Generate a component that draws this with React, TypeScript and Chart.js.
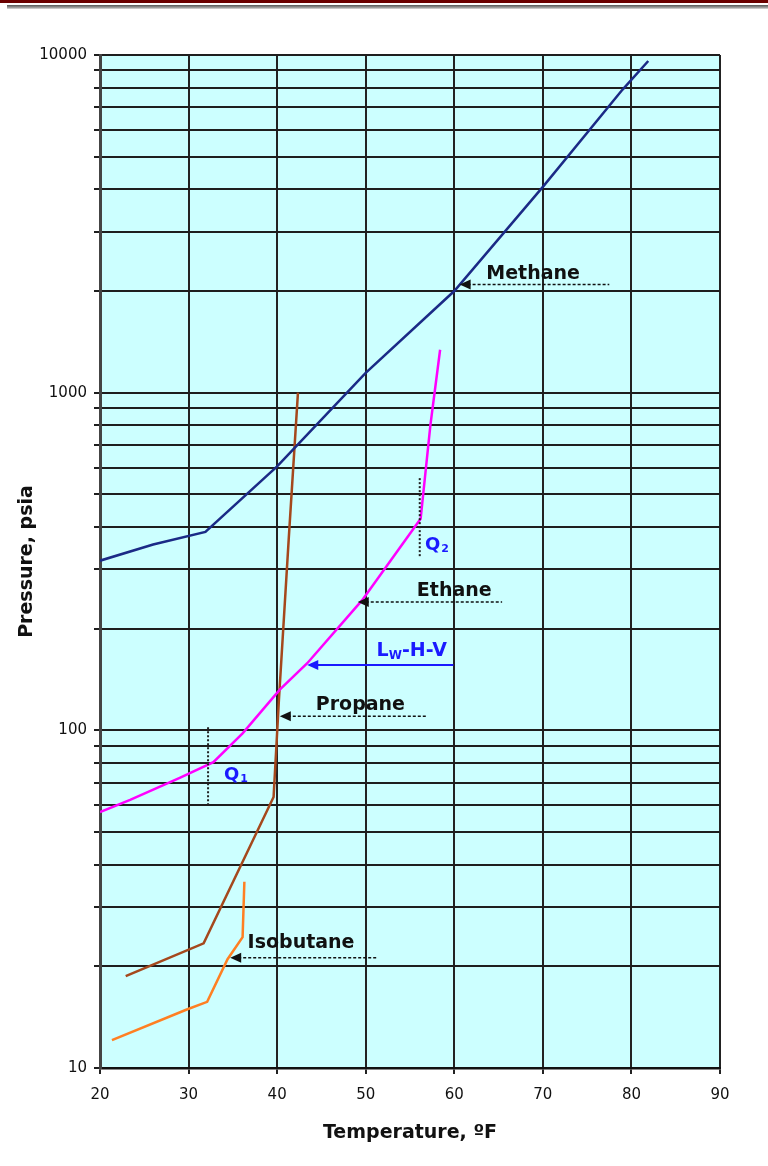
import React, { useEffect, useRef } from "react";
import Chart from "chart.js/auto";

// Hydrate formation curves: temperature (°F) vs pressure (psia)
const methaneT = [20, 26, 31.9, 40, 50, 60, 70, 79, 81.9];
const methaneP = [318, 355, 387, 605, 1145, 2000, 4070, 7900, 9600];

const ethaneT = [20, 23.4, 29, 32.8, 36.1, 40.3, 43.4, 49.6, 56.2, 57.3, 58.4];
const ethaneP = [57.3, 62.2, 72.3, 80.5, 98, 132, 158, 243, 423, 800, 1340];

const propaneT = [22.9, 31.7, 39.6, 40.2, 41.3, 42.35];
const propaneP = [18.7, 23.4, 63.5, 123, 366, 1000];

const isobutaneT = [21.35, 29.8, 32.1, 34.4, 36.1, 36.3];
const isobutaneP = [12.1, 14.9, 15.7, 21, 24.4, 35.6];

// Pressure gridline values and the ones that carry a label
const pressureTicks = [
  10, 20, 30, 40, 50, 60, 70, 80, 90,
  100, 200, 300, 400, 500, 600, 700, 800, 900,
  1000, 2000, 3000, 4000, 5000, 6000, 7000, 8000, 9000,
  10000,
];
const pressureLabels = [10, 100, 1000, 10000];

// Callout arrows: tip on the curve, tail end, pressure level, label centre
const callouts = [
  { text: "Methane", tipT: 60.6, endT: 77.5, p: 2090, labelT: 68.9, dy: -6, solid: false },
  { text: "Ethane", tipT: 49.1, endT: 65.4, p: 240, labelT: 60.0, dy: -6, solid: false },
  { text: "LW-H-V", tipT: 43.4, endT: 59.9, p: 156, labelT: 55.2, dy: -9, solid: true },
  { text: "Propane", tipT: 40.3, endT: 56.9, p: 110, labelT: 49.4, dy: -6, solid: false },
  { text: "Isobutane", tipT: 34.7, endT: 51.2, p: 21.2, labelT: 42.7, dy: -10, solid: false },
];

// Quadruple points: dotted vertical marker and label
const quadPoints = [
  { name: "1", t: 32.2, pLow: 60, pHigh: 103, labelT: 34.0, labelP: 73.8 },
  { name: "2", t: 56.1, pLow: 328, pHigh: 559, labelT: 56.7, labelP: 354 },
];

const toPoints = (xs: number[], ys: number[]) => xs.map((x, i) => ({ x, y: ys[i] }));

const FONT = "'DejaVu Sans', 'Liberation Sans', Arial, sans-serif";
const BLUE = "#1a1aff";

function arrowHead(ctx: CanvasRenderingContext2D, x: number, y: number, color: string) {
  ctx.beginPath();
  ctx.moveTo(x, y);
  ctx.lineTo(x + 11, y - 5);
  ctx.lineTo(x + 11, y + 5);
  ctx.closePath();
  ctx.fillStyle = color;
  ctx.fill();
}

const notesPlugin = {
  id: "hydrateNotes",
  beforeDraw(chart: any) {
    const { ctx, chartArea } = chart;
    ctx.save();
    ctx.fillStyle = "#ccffff";
    ctx.fillRect(chartArea.left, chartArea.top, chartArea.right - chartArea.left, chartArea.bottom - chartArea.top);
    ctx.restore();
  },
  afterDatasetsDraw(chart: any) {
    const { ctx } = chart;
    const xs = chart.scales.x;
    const ys = chart.scales.y;
    ctx.save();

    // quadruple point markers
    quadPoints.forEach((q) => {
      const x = xs.getPixelForValue(q.t);
      ctx.beginPath();
      ctx.setLineDash([2, 2]);
      ctx.lineWidth = 2;
      ctx.strokeStyle = "#222";
      ctx.moveTo(x, ys.getPixelForValue(q.pLow));
      ctx.lineTo(x, ys.getPixelForValue(q.pHigh));
      ctx.stroke();
      ctx.setLineDash([]);
      const lx = xs.getPixelForValue(q.labelT);
      const ly = ys.getPixelForValue(q.labelP);
      ctx.fillStyle = BLUE;
      ctx.textBaseline = "middle";
      ctx.textAlign = "left";
      ctx.font = `bold 18px ${FONT}`;
      ctx.fillText("Q", lx, ly);
      const w = ctx.measureText("Q").width;
      ctx.font = `bold 11px ${FONT}`;
      ctx.fillText(q.name, lx + w + 1, ly + 4);
    });

    // callout arrows with labels
    callouts.forEach((c) => {
      const x0 = xs.getPixelForValue(c.tipT);
      const x1 = xs.getPixelForValue(c.endT);
      const y = ys.getPixelForValue(c.p);
      const color = c.solid ? BLUE : "#111";
      ctx.beginPath();
      ctx.lineWidth = c.solid ? 2 : 1.5;
      ctx.strokeStyle = color;
      ctx.setLineDash(c.solid ? [] : [3, 2]);
      ctx.moveTo(x0 + 8, y);
      ctx.lineTo(x1, y);
      ctx.stroke();
      ctx.setLineDash([]);
      arrowHead(ctx, x0, y, color);

      const cx = xs.getPixelForValue(c.labelT);
      const by = y + c.dy;
      ctx.textBaseline = "alphabetic";
      ctx.textAlign = "left";
      ctx.fillStyle = color;
      if (c.text === "LW-H-V") {
        const big = `bold 19px ${FONT}`;
        const small = `bold 12px ${FONT}`;
        ctx.font = big;
        const wL = ctx.measureText("L").width;
        const wRest = ctx.measureText("-H-V").width;
        ctx.font = small;
        const wW = ctx.measureText("W").width;
        let x = cx - (wL + wW + wRest) / 2;
        ctx.font = big;
        ctx.fillText("L", x, by);
        x += wL;
        ctx.font = small;
        ctx.fillText("W", x, by + 3);
        x += wW;
        ctx.font = big;
        ctx.fillText("-H-V", x, by);
      } else {
        ctx.font = `bold 19px ${FONT}`;
        ctx.textAlign = "center";
        ctx.fillText(c.text, cx, by);
      }
    });
    ctx.restore();
  },
};

export default function App() {
  const canvasRef = useRef<HTMLCanvasElement | null>(null);

  useEffect(() => {
    if (!canvasRef.current) return;
    const line = (label: string, data: any[], color: string) => ({
      label,
      data,
      borderColor: color,
      backgroundColor: color,
      borderWidth: 2.5,
      showLine: true,
      pointRadius: 0,
      tension: 0,
    });
    const chart = new Chart(canvasRef.current, {
      type: "scatter",
      data: {
        datasets: [
          line("Methane", toPoints(methaneT, methaneP), "#1b2a86"),
          line("Ethane", toPoints(ethaneT, ethaneP), "#ff00ff"),
          line("Propane", toPoints(propaneT, propaneP), "#a5481c"),
          line("Isobutane", toPoints(isobutaneT, isobutaneP), "#ff7f22"),
        ],
      },
      options: {
        animation: false,
        responsive: false,
        devicePixelRatio: 1,
        layout: { padding: { left: 0, right: 48, top: 55, bottom: 0 } },
        plugins: { legend: { display: false }, tooltip: { enabled: false } },
        scales: {
          x: {
            type: "linear",
            min: 20,
            max: 90,
            ticks: { stepSize: 10, color: "#111", font: { family: FONT, size: 15 }, padding: 12 },
            grid: { color: "#222", lineWidth: 2, tickLength: 6 },
            border: { color: "#111", width: 2.5 },
            title: {
              display: true,
              text: "Temperature, ºF",
              color: "#111",
              font: { family: FONT, size: 19, weight: "bold" },
              padding: { top: 4, bottom: 22 },
            },
            afterFit: (scale: any) => {
              scale.height = 98;
            },
          },
          y: {
            type: "logarithmic",
            min: 10,
            max: 10000,
            afterBuildTicks: (scale: any) => {
              scale.ticks = pressureTicks.map((v) => ({ value: v }));
            },
            ticks: {
              autoSkip: false,
              color: "#111",
              font: { family: FONT, size: 15 },
              padding: 7,
              callback: (value: any) => (pressureLabels.includes(Number(value)) ? String(value) : ""),
            },
            grid: { color: "#1e1e1e", lineWidth: 2, tickLength: 6 },
            border: { color: "#444", width: 3 },
            title: {
              display: true,
              text: "Pressure, psia",
              color: "#111",
              font: { family: FONT, size: 19, weight: "bold" },
              padding: { top: 16, bottom: 0 },
            },
            afterFit: (scale: any) => {
              scale.width = 100;
            },
          },
        },
      },
      plugins: [notesPlugin],
    } as any);
    return () => chart.destroy();
  }, []);

  return (
    <div style={{ position: "absolute", left: 0, top: 0, width: 768, height: 1166, background: "#fff" }}>
      <div style={{ position: "absolute", left: 0, top: 0, width: 768, height: 3, background: "#6b0000" }} />
      <div
        style={{
          position: "absolute",
          left: 7,
          top: 5,
          width: 761,
          height: 4,
          background: "linear-gradient(#555, #999 60%, #ddd)",
        }}
      />
      <canvas ref={canvasRef} width={768} height={1166} style={{ position: "absolute", left: 0, top: 0 }} />
    </div>
  );
}
